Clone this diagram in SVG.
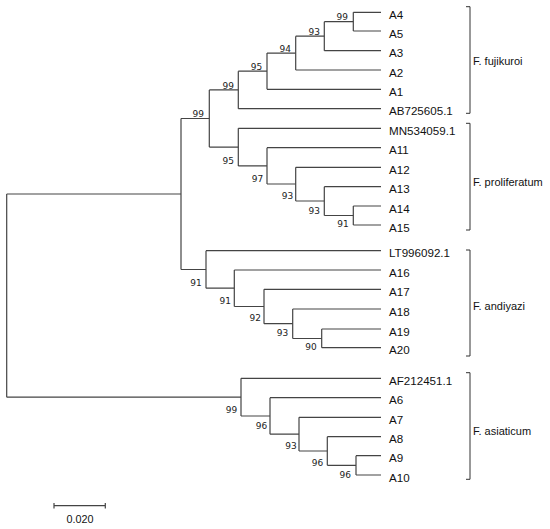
<svg xmlns="http://www.w3.org/2000/svg" width="550" height="529" viewBox="0 0 550 529">
<style>
.br{fill:none;stroke:#444;stroke-width:1.2}
.bk{fill:none;stroke:#333;stroke-width:1}
.leaf{font-family:"Liberation Sans",Arial,sans-serif;font-size:11.6px;fill:#111}
.clade{font-family:"Liberation Sans",Arial,sans-serif;font-size:11px;fill:#111}
.bs{font-family:"DejaVu Sans",Verdana,sans-serif;font-size:9px;fill:#222;text-anchor:end}
.sc{font-family:"Liberation Sans",Arial,sans-serif;font-size:10.8px;fill:#111;text-anchor:middle}
</style>
<rect width="550" height="529" fill="#fff"/>
<g id="connectors" class="br">
<path d="M6.7,194V397.2M6.7,194H181M6.7,397.2H241"/>
<path d="M181,118.5V269.5M181,118.5H209.3M181,269.5H206"/>
<path d="M209.3,89.9V147.1M209.3,89.9H238.3M209.3,147.1H238.3"/>
<path d="M238.3,71.2V108.7M238.3,71.2H267M238.3,108.7H381"/>
<path d="M267,53.1V89.3M267,53.1H295.7M267,89.3H381"/>
<path d="M295.7,36.2V70M295.7,36.2H324.3M295.7,70H381"/>
<path d="M324.3,21.7V50.7M324.3,21.7H353.3M324.3,50.7H381"/>
<path d="M353.3,12.3V31M353.3,12.3H381M353.3,31H381"/>
<path d="M238.3,128.3V165.9M238.3,128.3H381M238.3,165.9H267"/>
<path d="M267,147.7V184M267,147.7H381M267,184H295.7"/>
<path d="M295.7,167.3V201M295.7,167.3H381M295.7,201H324.3"/>
<path d="M324.3,186.7V215.5M324.3,186.7H381M324.3,215.5H353.3"/>
<path d="M353.3,206V225M353.3,206H381M353.3,225H381"/>
<path d="M206,250.7V288.2M206,250.7H381M206,288.2H234.3"/>
<path d="M234.3,270V306.5M234.3,270H381M234.3,306.5H264"/>
<path d="M264,289.3V323.7M264,289.3H381M264,323.7H292.7"/>
<path d="M292.7,309V338.5M292.7,309H381M292.7,338.5H321.7"/>
<path d="M321.7,329V347.7M321.7,329H381M321.7,347.7H381"/>
<path d="M241,378.3V416M241,378.3H381M241,416H270"/>
<path d="M270,397.7V434.2M270,397.7H381M270,434.2H299"/>
<path d="M299,417.3V451M299,417.3H381M299,451H327.3"/>
<path d="M327.3,436.7V465.3M327.3,436.7H381M327.3,465.3H356"/>
<path d="M356,455.7V475M356,455.7H381M356,475H381"/>
</g>
<g id="leaves" class="leaf">
<g id="leaf-A4"><text x="389" y="18.8">A4</text></g>
<g id="leaf-A5"><text x="389" y="37.5">A5</text></g>
<g id="leaf-A3"><text x="389" y="57.2">A3</text></g>
<g id="leaf-A2"><text x="389" y="76.5">A2</text></g>
<g id="leaf-A1"><text x="389" y="95.8">A1</text></g>
<g id="leaf-AB725605"><text x="389" y="115.2">AB725605.1</text></g>
<g id="leaf-MN534059"><text x="389" y="134.8">MN534059.1</text></g>
<g id="leaf-A11"><text x="389" y="154.2">A11</text></g>
<g id="leaf-A12"><text x="389" y="173.8">A12</text></g>
<g id="leaf-A13"><text x="389" y="193.2">A13</text></g>
<g id="leaf-A14"><text x="389" y="212.5">A14</text></g>
<g id="leaf-A15"><text x="389" y="231.5">A15</text></g>
<g id="leaf-LT996092"><text x="389" y="257.2">LT996092.1</text></g>
<g id="leaf-A16"><text x="389" y="276.5">A16</text></g>
<g id="leaf-A17"><text x="389" y="295.8">A17</text></g>
<g id="leaf-A18"><text x="389" y="315.5">A18</text></g>
<g id="leaf-A19"><text x="389" y="335.5">A19</text></g>
<g id="leaf-A20"><text x="389" y="354.2">A20</text></g>
<g id="leaf-AF212451"><text x="389" y="384.8">AF212451.1</text></g>
<g id="leaf-A6"><text x="389" y="404.2">A6</text></g>
<g id="leaf-A7"><text x="389" y="423.8">A7</text></g>
<g id="leaf-A8"><text x="389" y="443.2">A8</text></g>
<g id="leaf-A9"><text x="389" y="462.2">A9</text></g>
<g id="leaf-A10"><text x="389" y="481.5">A10</text></g>
</g>
<g id="bootstrap" class="bs">
<text x="348" y="20">99</text>
<text x="320" y="35">93</text>
<text x="291" y="51.5">94</text>
<text x="262.3" y="69.5">95</text>
<text x="234" y="88.5">99</text>
<text x="204" y="116.5">99</text>
<text x="234" y="163.5">95</text>
<text x="263.3" y="181.5">97</text>
<text x="293.3" y="199">93</text>
<text x="320" y="214">93</text>
<text x="348.7" y="227">91</text>
<text x="201.7" y="285.5">91</text>
<text x="231" y="303.5">91</text>
<text x="261" y="320.5">92</text>
<text x="288.3" y="335.5">93</text>
<text x="316.7" y="350">90</text>
<text x="237.3" y="413">99</text>
<text x="267.3" y="428.5">96</text>
<text x="296.7" y="449">93</text>
<text x="323.3" y="466">96</text>
<text x="351" y="478">96</text>
</g>
<g id="clade-fujikuroi">
<path class="bk" d="M466,6.7H470V113.3H466"/>
<text class="clade" x="473" y="65">F. fujikuroi</text>
</g>
<g id="clade-proliferatum">
<path class="bk" d="M466,123.3H470V230H466"/>
<text class="clade" x="473" y="185.5">F. proliferatum</text>
</g>
<g id="clade-andiyazi">
<path class="bk" d="M466,250H470V356H466"/>
<text class="clade" x="473" y="309.5">F. andiyazi</text>
</g>
<g id="clade-asiaticum">
<path class="bk" d="M466,372.7H470V479.3H466"/>
<text class="clade" x="473" y="434.5">F. asiaticum</text>
</g>
<g id="scale-bar">
<path class="br" d="M54,505.7H105.3M54,503V508.4M105.3,503V508.4"/>
<text class="sc" x="80" y="523">0.020</text>
</g>
</svg>
